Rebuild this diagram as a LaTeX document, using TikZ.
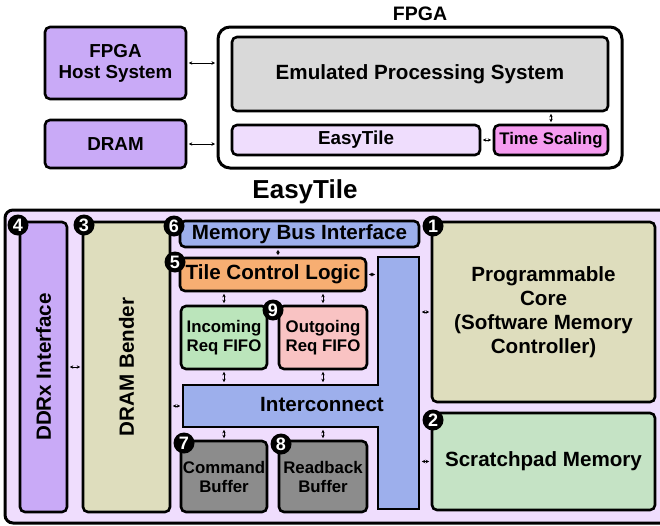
\documentclass[tikz,border=0pt]{standalone}
\usepackage{fontspec}
\setmainfont{Liberation Sans}
\usepackage{graphicx}
\usetikzlibrary{arrows.meta}
\definecolor{cpurple}{HTML}{C9AAF7}
\definecolor{clav}{HTML}{EFDDFD}
\definecolor{cgray}{HTML}{D9D9D9}
\definecolor{cpink}{HTML}{F59CF0}
\definecolor{colive}{HTML}{DEDDBD}
\definecolor{cblue}{HTML}{9DAFEC}
\definecolor{corange}{HTML}{F7AE72}
\definecolor{cgreen}{HTML}{BBE5BB}
\definecolor{crose}{HTML}{F9C3C3}
\definecolor{cdark}{HTML}{8C8C8C}
\definecolor{cmint}{HTML}{C5E3C5}
\tikzset{
  box/.style={draw, line width=2.6pt, rounded corners=5pt, align=center, inner sep=0pt},
  big/.style={font={\fontsize{20.6}{24}\selectfont\bfseries}},
  mid/.style={font={\fontsize{18.8}{21}\selectfont\bfseries}},
  small/.style={font={\fontsize{16.8}{19}\selectfont\bfseries}},
  badge/.style={circle, fill=black, text=white, minimum size=21pt, inner sep=0pt, font={\fontsize{18}{18}\selectfont\bfseries}},
  biarrow/.style={{Stealth[length=3.5pt,width=3.5pt]}-{Stealth[length=3.5pt,width=3.5pt]}, line width=0.8pt, shorten >=1.5pt, shorten <=1.5pt},
  ghost/.style={rectangle, inner sep=0pt, outer sep=0pt}
}
\newcommand\bx[7]{\node[box,#6,minimum width={#4pt-#2pt},minimum height={#5pt-#3pt}] (#1) at ({(#2+#4)/2},{(#3+#5)/2}) {#7};}
\begin{document}
\begin{tikzpicture}[x=1pt,y=-1pt]
\useasboundingbox (0,0) rectangle (660,525);
\clip (0,0) rectangle (660,525);
% top part
\bx{host}{45}{27}{186}{99}{fill=cpurple,mid}{FPGA\\Host System}
\bx{dram}{45}{120}{186}{168}{fill=cpurple,mid}{DRAM}
\bx{fpga}{218}{27}{622}{168}{fill=white,rounded corners=12pt,line width=3pt}{}
\node[font={\fontsize{19.5}{19.5}\selectfont\bfseries}] (fpgalbl) at (420,14) {FPGA};
\bx{emu}{232}{37}{608}{111}{fill=cgray,big}{Emulated Processing System}
\bx{ets}{232}{125}{480}{155}{fill=clav,mid}{EasyTile}
\bx{ts}{494}{125}{608}{155}{fill=cpink,small}{Time Scaling}
\draw[biarrow] (host.east) -- (host.east -| fpga.west);
\draw[biarrow] (dram.east) -- (dram.east -| fpga.west);
\draw[biarrow] (ets.east) -- (ts.west);
\draw[biarrow] (ts.north) -- (ts.north |- emu.south);
% EasyTile
\node[font={\fontsize{26}{26}\selectfont\bfseries}] (ettitle) at (305,192) {EasyTile};
\bx{outer}{5}{210}{690}{523}{fill=clav,rounded corners=8pt,line width=3pt}{}
\bx{ddrx}{20}{222}{67}{512}{fill=cpurple,big}{\rotatebox{90}{DDRx Interface}}
\bx{bender}{83}{222}{170}{512}{fill=colive,big}{\rotatebox{90}{DRAM Bender}}
\bx{mbi}{180}{221}{419}{247}{fill=cblue,big}{Memory Bus Interface}
\bx{tcl}{180}{258}{366}{291}{fill=corange,big}{Tile Control Logic}
\bx{inc}{181}{306}{267}{369}{fill=cgreen,small}{Incoming\\Req FIFO}
\bx{outg}{279}{306}{367}{369}{fill=crose,small}{Outgoing\\Req FIFO}
\bx{cmd}{181}{441}{267}{512}{fill=cdark,small}{Command\\Buffer}
\bx{rb}{279}{441}{367}{512}{fill=cdark,small}{Readback\\Buffer}
\bx{core}{432}{222}{655}{402}{fill=colive,big}{Programmable\\Core\\(Software Memory\\Controller)}
\bx{spm}{432}{413}{655}{510}{fill=cmint,big}{Scratchpad Memory}
% Interconnect T shape
\draw[fill=cblue, line width=2.6pt] (183,385) -- (378,385) -- (378,257) -- (419,257) -- (419,509) -- (378,509) -- (378,427) -- (183,427) -- cycle;
\node[ghost, minimum width=41pt, minimum height=252pt, outer sep=1.3pt] (vbar) at (398.5,383) {};
\node[ghost, minimum width=195pt, minimum height=42pt, outer sep=1.3pt] (hbar) at (280.5,406) {};
\node[big] (iclbl) at (322,405) {Interconnect};
% connectors
\draw[biarrow] (ddrx.east) -- (ddrx.east -| bender.west);
\draw[biarrow] (hbar.west -| bender.east) -- (hbar.west);
\draw[biarrow] ([xshift=5pt]tcl.north) -- ([xshift=5pt]tcl.north |- mbi.south);
\draw[biarrow] (tcl.east) -- (tcl.east -| vbar.west);
\draw[biarrow] (inc.north) -- (inc.north |- tcl.south);
\draw[biarrow] (outg.north) -- (outg.north |- tcl.south);
\draw[biarrow] (inc.south) -- (inc.south |- hbar.north);
\draw[biarrow] (outg.south) -- (outg.south |- hbar.north);
\draw[biarrow] (cmd.north) -- (cmd.north |- hbar.south);
\draw[biarrow] (rb.north) -- (rb.north |- hbar.south);
\draw[biarrow] (core.west) -- (core.west -| vbar.east);
\draw[biarrow] (spm.west) -- (spm.west -| vbar.east);
% badges
\node[badge] (b1) at (433,226) {1};
\node[badge] (b2) at (433,420) {2};
\node[badge] (b3) at (84,225) {3};
\node[badge] (b4) at (18,225) {4};
\node[badge] (b5) at (175,262) {5};
\node[badge] (b6) at (174,226) {6};
\node[badge] (b7) at (184,443) {7};
\node[badge] (b8) at (281,444) {8};
\node[badge] (b9) at (273,310) {9};
\end{tikzpicture}
\end{document}
